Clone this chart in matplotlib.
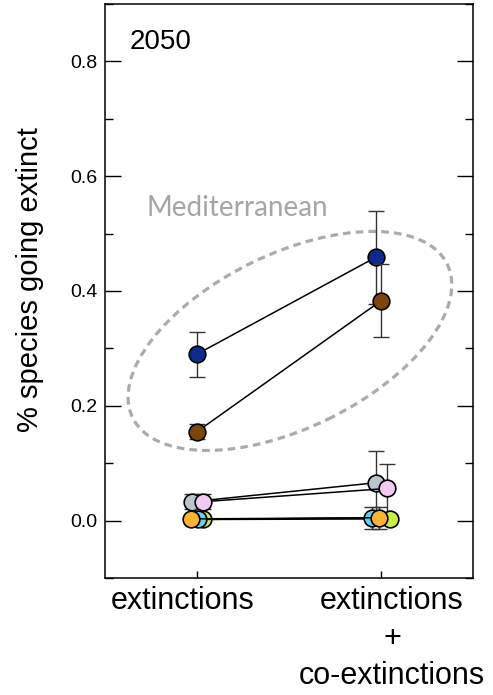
import matplotlib
matplotlib.use("Agg")
import matplotlib.pyplot as plt
from matplotlib.patches import Ellipse
from matplotlib.transforms import ScaledTranslation
from matplotlib.ticker import MultipleLocator, FormatStrFormatter

plt.rcParams['font.family'] = ['Liberation Sans', 'DejaVu Sans']

# scenarios on the x axis
scenarios = ["extinctions", "extinctions\n+\nco-extinctions"]

# proportion of species going extinct by 2050, per region (scenario 1, scenario 2)
regions = ["blue", "brown", "grey", "pink", "lime", "cyan", "orange"]
values = {
    "blue":   [0.290, 0.459],
    "brown":  [0.155, 0.383],
    "grey":   [0.033, 0.066],
    "pink":   [0.033, 0.056],
    "lime":   [0.002, 0.003],
    "cyan":   [0.002, 0.005],
    "orange": [0.003, 0.005],
}
errors = {
    "blue":   [0.039, 0.081],
    "brown":  [0.013, 0.064],
    "grey":   [0.013, 0.055],
    "pink":   [0.013, 0.043],
    "lime":   [0.004, 0.006],
    "cyan":   [0.005, 0.019],
    "orange": [0.005, 0.019],
}

# drawing styles
colors = {
    "blue": "#0e2a8c", "brown": "#7c4608", "grey": "#bac4cd", "pink": "#f1c9f2",
    "lime": "#c8f03e", "cyan": "#64d2f1", "orange": "#fbb332",
}
# small horizontal dodge so overlapping points stay visible
dodge = {
    "blue": [0.0, -0.027], "brown": [0.0, 0.0], "grey": [-0.027, -0.027],
    "pink": [0.033, 0.033], "lime": [0.033, 0.049], "cyan": [0.005, -0.049],
    "orange": [-0.033, -0.011],
}
# horizontal placement of the scenario captions
caption_x = [0.924, 2.06]

fig = plt.figure(figsize=(4.93, 6.95), dpi=100)
ax = fig.add_axes([0.213, 0.1683, 0.7465, 0.826])

for i, r in enumerate(regions):
    xs = [k + 1 + dodge[r][k] for k in range(2)]
    ys = values[r]
    z = 3 + i
    ax.plot(xs, ys, color="black", lw=1.1, zorder=z, solid_capstyle="butt")
    ax.errorbar(xs, ys, yerr=errors[r], fmt="none", ecolor="#333333",
                elinewidth=1.0, capsize=5.7, capthick=1.0, zorder=z)
    ax.plot(xs, ys, "o", ms=12, mfc=colors[r], mec="black", mew=1.2,
            zorder=z + 0.5)

# dashed outline grouping the Mediterranean regions
ell = Ellipse((0, 0), 3.50, 1.74, angle=26,
              transform=fig.dpi_scale_trans + ScaledTranslation(1.505, 0.313, ax.transData),
              fill=False, edgecolor="#ababab", lw=2.3, linestyle=(0, (2.4, 1.6)),
              zorder=2)
ax.add_patch(ell)

ax.text(0.723, 0.530, "Mediterranean", fontsize=20, color="#a5a5a5",
        family=["Lato", "DejaVu Sans"], ha="left", va="baseline")
ax.text(0.068, 0.933, "2050", transform=ax.transAxes, fontsize=20,
        ha="left", va="center")

ax.set_xlim(0.5, 2.5)
ax.set_ylim(-0.1, 0.9)
ax.set_xticks([1, 2])
ax.set_xticklabels([])
for xc, lab in zip(caption_x, scenarios):
    ax.text(xc, -0.014, lab, transform=ax.get_xaxis_transform(), fontsize=22,
            ha="center", va="top", multialignment="center", linespacing=1.33)

ax.yaxis.set_major_locator(MultipleLocator(0.2))
ax.yaxis.set_minor_locator(MultipleLocator(0.1))
ax.yaxis.set_major_formatter(FormatStrFormatter("%.1f"))
ax.tick_params(axis="y", which="major", direction="in", length=11.5, width=1.0,
               labelsize=14, right=True, pad=5.5)
ax.tick_params(axis="y", which="minor", direction="in", length=6, width=1.0, right=True)
ax.tick_params(axis="x", direction="in", length=5, width=1.0)
ax.set_ylabel("% species going extinct", fontsize=21)
ax.yaxis.set_label_coords(-0.165, 0.52)
for s in ax.spines.values():
    s.set_linewidth(1.1)

fig.savefig("out.png", dpi=100)
